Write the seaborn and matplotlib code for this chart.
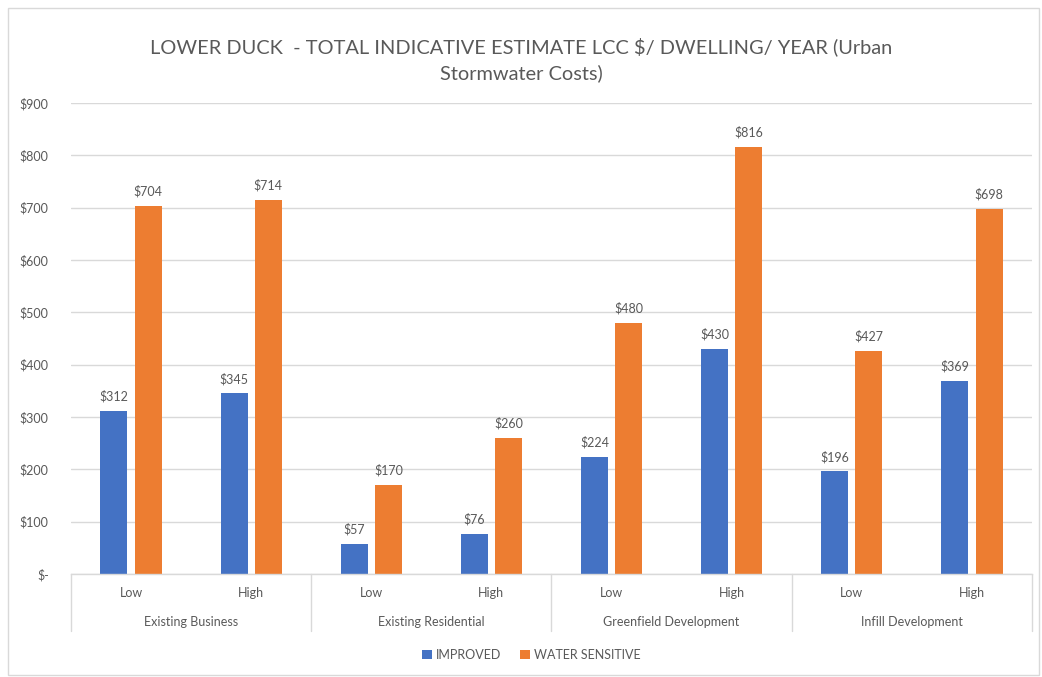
import pandas as pd
import seaborn as sns
import matplotlib.pyplot as plt
from matplotlib.patches import Rectangle

groups = ["Existing Business", "Existing Residential", "Greenfield Development", "Infill Development"]
levels = ["Low", "High"]
improved = [312, 345, 57, 76, 224, 430, 196, 369]
water_sensitive = [704, 714, 170, 260, 480, 816, 427, 698]
series = ["IMPROVED", "WATER SENSITIVE"]
yticks = [0, 100, 200, 300, 400, 500, 600, 700, 800, 900]
ytick_labels = ["$-", "$100", "$200", "$300", "$400", "$500", "$600", "$700", "$800", "$900"]

cats = [g + "|" + l for g in groups for l in levels]
df = pd.DataFrame({
    "cat": cats * 2,
    "series": [series[0]] * 8 + [series[1]] * 8,
    "value": improved + water_sensitive,
})

sns.set_style("white")
plt.rcParams["font.family"] = ["Lato", "DejaVu Sans"]
grey = "#595959"
line = "#d9d9d9"

fig = plt.figure(figsize=(10.42, 6.77), dpi=100)
ax = fig.add_axes([0.0681, 0.1521, 0.9223, 0.6958])

sns.barplot(data=df, x="cat", y="value", hue="series", order=cats,
            hue_order=series, palette=["#4472C4", "#ED7D31"],
            width=0.57, gap=0.21, linewidth=0, saturation=1, ax=ax)

ax.set_ylim(0, 900)
ax.set_xlim(-0.5, 7.5)
ax.set_yticks(yticks)
ax.set_yticklabels(ytick_labels)
ax.yaxis.grid(True, color=line, linewidth=1)
ax.set_axisbelow(True)
ax.tick_params(axis="y", length=0, pad=16, labelsize=9, labelcolor=grey)
ax.set_xticks([])
ax.set_xlabel("")
ax.set_ylabel("")
for s in ["top", "right", "left"]:
    ax.spines[s].set_visible(False)
ax.spines["bottom"].set_color(line)
ax.spines["bottom"].set_linewidth(1)

for c in ax.containers:
    ax.bar_label(c, labels=["$%d" % v for v in c.datavalues], padding=6,
                 fontsize=9, color=grey)

# multi-level category axis
tr = ax.get_xaxis_transform()
for b in [-0.5, 1.5, 3.5, 5.5, 7.5]:
    ax.plot([b, b], [0, -0.121], transform=tr, color=line, lw=1, clip_on=False)
for i, c in enumerate(cats):
    ax.text(i, -0.040, c.split("|")[1], transform=tr, ha="center", va="center",
            fontsize=9, color=grey)
for j, g in enumerate(groups):
    ax.text(2 * j + 0.5, -0.102, g, transform=tr, ha="center", va="center",
            fontsize=9, color=grey)

ax.legend_.remove()
handles, labels = ax.get_legend_handles_labels()
fig.legend(handles, labels, loc="center", bbox_to_anchor=(0.51, 0.0325), ncol=2,
           frameon=False, fontsize=9, labelcolor=grey, handlelength=0.8,
           handleheight=0.8, handletextpad=0.3, columnspacing=1.5)

fig.text(0.5, (677 - 60) / 677,
         "LOWER DUCK  - TOTAL INDICATIVE ESTIMATE LCC $/ DWELLING/ YEAR (Urban\nStormwater Costs)",
         ha="center", va="center", fontsize=14.4, color=grey, linespacing=1.55)

fig.patches.append(Rectangle((8 / 1042, 2 / 677), 1031 / 1042, 667 / 677,
                             transform=fig.transFigure, fill=False,
                             edgecolor=line, lw=1))

fig.savefig("out.png", dpi=100)
